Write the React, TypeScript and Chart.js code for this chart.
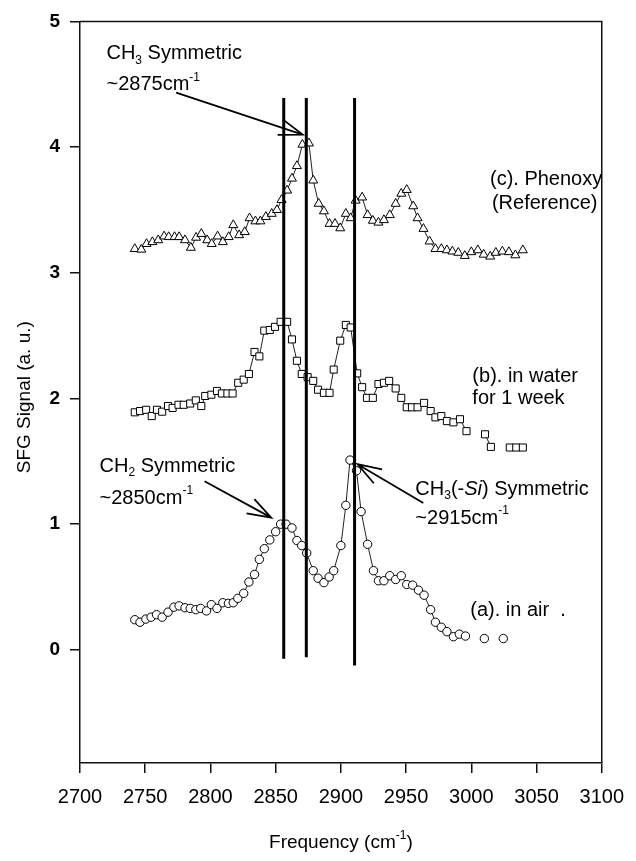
import React, { useEffect, useRef } from 'react';
import { Chart, registerables } from 'chart.js';

Chart.register(...registerables);

// ---- axis ticks ----
const xTicks = [2700, 2750, 2800, 2850, 2900, 2950, 3000, 3050, 3100];
const yTicks = [0, 1, 2, 3, 4, 5];

// ---- (a) in air ----
const airFreq = [2742, 2746, 2750.5, 2754.5, 2758.7, 2763, 2767.5, 2772, 2776, 2780.5, 2784.5, 2788.8, 2792.5, 2797, 2800.7, 2805, 2809.5, 2813.8, 2817.5, 2821, 2825.5, 2829.5, 2833.8, 2837.5, 2841.3, 2845.5, 2850, 2853.8, 2858, 2862.5, 2866.3, 2870, 2873.8, 2878.8, 2882.5, 2887, 2891, 2894.5, 2900, 2903.8, 2907, 2912, 2915.5, 2920.5, 2925, 2928.8, 2933, 2937.5, 2942, 2946.3, 2950.5, 2955, 2959.5, 2963.8, 2968.8, 2972.5, 2977, 2981.3, 2986.3, 2990.8, 2995.5, 3003, 3010, 3017, 3024.5];
const airSignal = [0.24, 0.22, 0.245, 0.26, 0.28, 0.26, 0.30, 0.34, 0.35, 0.335, 0.33, 0.32, 0.33, 0.31, 0.36, 0.33, 0.375, 0.37, 0.375, 0.41, 0.45, 0.54, 0.60, 0.72, 0.805, 0.875, 0.94, 1.0, 1.0, 0.97, 0.87, 0.83, 0.77, 0.63, 0.57, 0.535, 0.58, 0.63, 0.83, 1.15, 1.51, 1.425, 1.10, 0.84, 0.63, 0.55, 0.55, 0.59, 0.56, 0.59, 0.52, 0.515, 0.475, 0.435, 0.32, 0.22, 0.18, 0.145, 0.105, 0.125, 0.11, null, 0.09, null, 0.09];

// ---- (b) in water for 1 week ----
const waterFreq = [2742, 2746, 2750.7, 2755, 2759, 2763, 2767.5, 2771, 2775.5, 2779.5, 2784.5, 2788.8, 2793, 2796, 2800.7, 2805, 2808.8, 2813, 2817, 2821.3, 2825.5, 2829.5, 2833.8, 2837.5, 2841.3, 2845.5, 2849.5, 2853.8, 2858.8, 2862.5, 2866.3, 2870, 2874.5, 2878.8, 2882.5, 2887, 2891.3, 2894.5, 2899.5, 2903.8, 2907.5, 2912.5, 2916.3, 2920, 2924.5, 2928.8, 2933, 2937, 2942, 2946.3, 2950.5, 2954.5, 2958.8, 2963.8, 2968.8, 2972.5, 2977, 2981.3, 2986.3, 2991.3, 2996.3, 3003, 3010.5, 3015, 3022, 3029.5, 3034.5, 3039.5];
const waterSignal = [1.89, 1.90, 1.91, 1.86, 1.91, 1.895, 1.94, 1.925, 1.95, 1.95, 1.96, 1.985, 1.94, 2.02, 2.03, 2.06, 2.04, 2.04, 2.04, 2.125, 2.15, 2.195, 2.37, 2.335, 2.54, 2.545, 2.57, 2.61, 2.61, 2.47, 2.30, 2.195, 2.17, 2.14, 2.07, 2.045, 2.045, 2.23, 2.46, 2.585, 2.565, 2.20, 2.09, 2.005, 2.005, 2.115, 2.125, 2.14, 2.08, 2.005, 1.93, 1.93, 1.93, 1.965, 1.90, 1.85, 1.86, 1.82, 1.81, 1.835, 1.74, null, 1.715, 1.615, null, 1.61, 1.61, 1.61];

// ---- (c) Phenoxy (Reference) ----
const phenoxyFreq = [2742, 2747, 2751, 2755.5, 2760, 2764.5, 2768, 2772.5, 2776, 2780.5, 2785, 2789, 2793, 2797.5, 2801, 2805.5, 2809.5, 2814, 2817.5, 2822, 2826.3, 2830, 2834.5, 2838.3, 2842.5, 2847, 2851, 2854.5, 2858.8, 2862.5, 2866.3, 2870.5, 2875.5, 2878.8, 2883, 2887, 2891.3, 2895.5, 2899.5, 2903.8, 2907.5, 2911.3, 2916.3, 2920.5, 2924.5, 2928.8, 2933, 2937.5, 2942, 2946.3, 2950.5, 2955.5, 2958.8, 2963.3, 2968, 2972.5, 2977, 2981.3, 2985.5, 2990, 2995, 3000, 3005, 3009.5, 3014.5, 3018.8, 3023.8, 3028.8, 3033.8, 3039.5];
const phenoxySignal = [3.19, 3.185, 3.23, 3.245, 3.26, 3.29, 3.285, 3.285, 3.285, 3.26, 3.20, 3.28, 3.31, 3.26, 3.23, 3.29, 3.245, 3.285, 3.38, 3.30, 3.325, 3.435, 3.41, 3.41, 3.445, 3.47, 3.50, 3.58, 3.655, 3.75, 3.85, 4.02, 4.03, 3.735, 3.55, 3.49, 3.39, 3.39, 3.355, 3.47, 3.435, 3.575, 3.60, 3.46, 3.415, 3.40, 3.42, 3.46, 3.55, 3.63, 3.66, 3.53, 3.435, 3.35, 3.25, 3.19, 3.19, 3.18, 3.17, 3.16, 3.135, 3.165, 3.18, 3.145, 3.13, 3.16, 3.17, 3.165, 3.14, 3.18];

// ---- vertical reference lines ----
const refLineFreq = [2856.2, 2873.5, 2910.5];
const refLineTop = [4.39, 4.39, 4.39];
const refLineBottom = [-0.07, -0.058, -0.124];

type Seg = { t: string; mode?: 'sub' | 'sup'; italic?: boolean };

const annotationTexts: { x: number; y: number; segs: Seg[] }[] = [
  { x: 2720.3, y: 4.742, segs: [{ t: 'CH' }, { t: '3', mode: 'sub' }, { t: ' Symmetric' }] },
  { x: 2720.3, y: 4.496, segs: [{ t: '~2875cm' }, { t: '-1', mode: 'sup' }] },
  { x: 3014.3, y: 3.743, segs: [{ t: '(c). Phenoxy' }] },
  { x: 3015.8, y: 3.553, segs: [{ t: '(Reference)' }] },
  { x: 3000.8, y: 2.175, segs: [{ t: '(b). in water' }] },
  { x: 3000.8, y: 2.0, segs: [{ t: 'for 1 week' }] },
  { x: 2715, y: 1.457, segs: [{ t: 'CH' }, { t: '2', mode: 'sub' }, { t: ' Symmetric' }] },
  { x: 2715, y: 1.208, segs: [{ t: '~2850cm' }, { t: '-1', mode: 'sup' }] },
  { x: 2957.1, y: 1.279, segs: [{ t: 'CH' }, { t: '3', mode: 'sub' }, { t: '(-' }, { t: 'Si', italic: true }, { t: ') Symmetric' }] },
  { x: 2957.1, y: 1.049, segs: [{ t: '~2915cm' }, { t: '-1', mode: 'sup' }] },
  { x: 2999.2, y: 0.312, segs: [{ t: '(a). in air  .' }] },
];

const arrows: { from: [number, number]; to: [number, number] }[] = [
  { from: [2773.7, 4.433], to: [2870.7, 4.1] },
  { from: [2795.5, 1.342], to: [2846.6, 1.052] },
  { from: [2963.2, 1.168], to: [2912.8, 1.477] },
];

const xTitle: Seg[] = [{ t: 'Frequency (cm' }, { t: '-1', mode: 'sup' }, { t: ')' }];
const yTitle: Seg[] = [{ t: 'SFG Signal (a. u.)' }];

const FONT = '"Liberation Sans", Arial, Helvetica, sans-serif';

function segFont(s: Seg, size: number) {
  const fs = s.mode ? Math.round(size * 0.62) : size;
  return `${s.italic ? 'italic ' : ''}${fs}px ${FONT}`;
}

function richWidth(ctx: CanvasRenderingContext2D, segs: Seg[], size: number) {
  let w = 0;
  for (const s of segs) {
    ctx.font = segFont(s, size);
    w += ctx.measureText(s.t).width;
  }
  return w;
}

function drawRich(ctx: CanvasRenderingContext2D, segs: Seg[], x: number, y: number, size: number, align: 'left' | 'center' = 'left') {
  let cx = align === 'center' ? x - richWidth(ctx, segs, size) / 2 : x;
  ctx.textAlign = 'left';
  ctx.textBaseline = 'middle';
  for (const s of segs) {
    ctx.font = segFont(s, size);
    const dy = s.mode === 'sub' ? size * 0.32 : s.mode === 'sup' ? -size * 0.36 : 0;
    ctx.fillText(s.t, cx, y + dy);
    cx += ctx.measureText(s.t).width;
  }
}

const decorPlugin = {
  id: 'decor',
  beforeDatasetsDraw(chart: any) {
    const { ctx, chartArea } = chart;
    ctx.save();
    ctx.strokeStyle = '#111';
    ctx.lineWidth = 1.5;
    ctx.beginPath();
    ctx.moveTo(chartArea.left, chartArea.top);
    ctx.lineTo(chartArea.right, chartArea.top);
    ctx.lineTo(chartArea.right, chartArea.bottom);
    ctx.stroke();
    ctx.restore();
  },
  afterDraw(chart: any) {
    const { ctx, chartArea } = chart;
    const xs = chart.scales.x;
    const ys = chart.scales.y;
    ctx.save();
    ctx.fillStyle = '#000';
    for (const a of annotationTexts) {
      drawRich(ctx, a.segs, xs.getPixelForValue(a.x), ys.getPixelForValue(a.y), 20);
    }
    ctx.strokeStyle = '#000';
    ctx.lineWidth = 1.8;
    for (const ar of arrows) {
      const x1 = xs.getPixelForValue(ar.from[0]);
      const y1 = ys.getPixelForValue(ar.from[1]);
      const x2 = xs.getPixelForValue(ar.to[0]);
      const y2 = ys.getPixelForValue(ar.to[1]);
      const ang = Math.atan2(y2 - y1, x2 - x1);
      const L = 25;
      const spread = 0.33;
      ctx.beginPath();
      ctx.moveTo(x1, y1);
      ctx.lineTo(x2, y2);
      ctx.moveTo(x2 - L * Math.cos(ang - spread), y2 - L * Math.sin(ang - spread));
      ctx.lineTo(x2, y2);
      ctx.lineTo(x2 - L * Math.cos(ang + spread), y2 - L * Math.sin(ang + spread));
      ctx.stroke();
    }
    // axis titles
    drawRich(ctx, xTitle, (chartArea.left + chartArea.right) / 2, chartArea.bottom + 80, 19, 'center');
    ctx.translate(chartArea.left - 55, (chartArea.top + chartArea.bottom) / 2 + 5);
    ctx.rotate(-Math.PI / 2);
    drawRich(ctx, yTitle, 0, 0, 19, 'center');
    ctx.restore();
  },
};

export default function App() {
  const canvasRef = useRef<HTMLCanvasElement | null>(null);

  useEffect(() => {
    if (!canvasRef.current) return;
    const toPts = (fx: number[], sy: (number | null)[]) => fx.map((x, i) => ({ x, y: sy[i] }));
    const marker = {
      pointBackgroundColor: '#fff',
      pointBorderColor: '#000',
      pointBorderWidth: 1,
      borderColor: '#222',
      borderWidth: 1,
      showLine: true,
      spanGaps: false,
      tension: 0,
      fill: false,
    };
    const refSets = refLineFreq.map((f, i) => ({
      label: 'ref' + i,
      data: [
        { x: f, y: refLineBottom[i] },
        { x: f, y: refLineTop[i] },
      ],
      borderColor: '#000',
      borderWidth: 3,
      pointRadius: 0,
      showLine: true,
      fill: false,
    }));
    const chart = new Chart(canvasRef.current, {
      type: 'scatter',
      data: {
        datasets: [
          ...refSets,
          { label: '(a). in air', data: toPts(airFreq, airSignal), pointStyle: 'circle', pointRadius: 4.2, ...marker },
          { label: '(b). in water for 1 week', data: toPts(waterFreq, waterSignal), pointStyle: 'rect', pointRadius: 5, ...marker },
          { label: '(c). Phenoxy (Reference)', data: toPts(phenoxyFreq, phenoxySignal), pointStyle: 'triangle', pointRadius: 5.2, ...marker },
        ] as any,
      },
      options: {
        animation: false,
        responsive: true,
        maintainAspectRatio: false,
        layout: { padding: { left: 0, right: 24, top: 18, bottom: 0 } },
        plugins: { legend: { display: false }, tooltip: { enabled: false } },
        scales: {
          x: {
            type: 'linear',
            min: 2700,
            max: 3100,
            afterFit: (s: any) => { s.height = 98; },
            afterBuildTicks: (s: any) => { s.ticks = xTicks.map((v) => ({ value: v })); },
            grid: { drawOnChartArea: false, drawTicks: true, tickLength: 10, color: '#111', lineWidth: 1.5 },
            border: { display: true, color: '#111', width: 1.5 },
            ticks: { color: '#000', padding: 12, maxRotation: 0, autoSkip: false, callback: (v: any) => String(v), font: { family: FONT, size: 20 } },
          },
          y: {
            type: 'linear',
            min: -0.9,
            max: 5,
            afterFit: (s: any) => { s.width = 80; },
            afterBuildTicks: (s: any) => { s.ticks = yTicks.map((v) => ({ value: v })); },
            grid: { drawOnChartArea: false, drawTicks: true, tickLength: 10, color: '#111', lineWidth: 1.5 },
            border: { display: true, color: '#111', width: 1.5 },
            ticks: { color: '#000', padding: 10, autoSkip: false, callback: (v: any) => String(v), font: { family: FONT, size: 19, weight: 'bold' } },
          },
        },
      },
      plugins: [decorPlugin],
    });
    return () => chart.destroy();
  }, []);

  return (
    <div style={{ position: 'fixed', left: 0, top: 0, width: 636, height: 861, background: '#fff' }}>
      <canvas ref={canvasRef} />
    </div>
  );
}
